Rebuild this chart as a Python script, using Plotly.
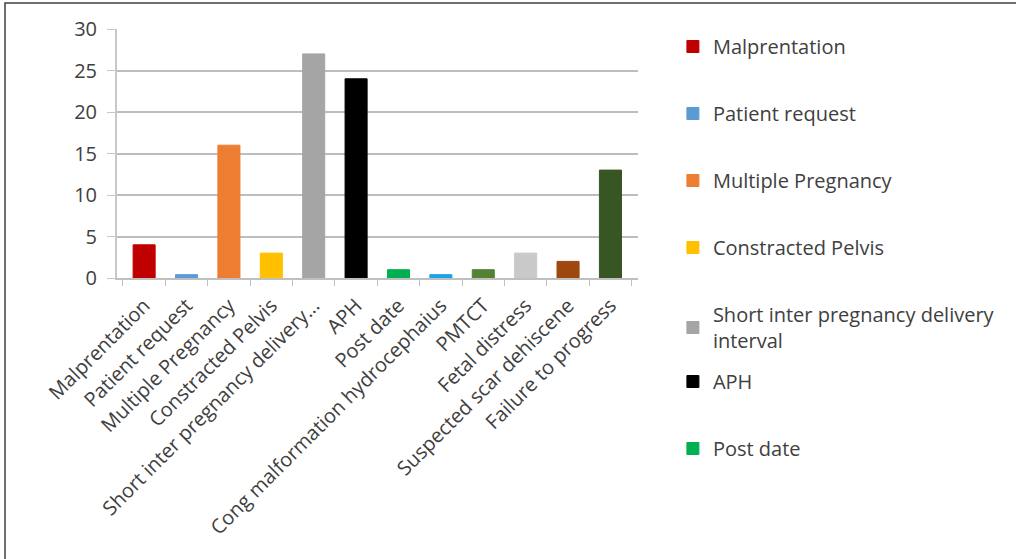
import plotly.graph_objects as go

categories = ["Malprentation", "Patient request", "Multiple Pregnancy", "Constracted Pelvis",
              "Short inter pregnancy delivery interval", "APH", "Post date",
              "Cong malformation hydrocephaius", "PMTCT", "Fetal distress",
              "Suspected scar dehiscene", "Failure to progress"]
tick_labels = ["Malprentation", "Patient request", "Multiple Pregnancy", "Constracted Pelvis",
               "Short inter pregnancy delivery...", "APH", "Post date",
               "Cong malformation hydrocephaius", "PMTCT", "Fetal distress",
               "Suspected scar dehiscene", "Failure to progress"]
legend_labels = ["Malprentation", "Patient request", "Multiple Pregnancy", "Constracted Pelvis",
                 "Short inter pregnancy delivery<br>interval", "APH", "Post date",
                 "Cong malformation hydrocephaius", "PMTCT", "Fetal distress",
                 "Suspected scar dehiscene", "Failure to progress"]
values = [4, 0.4, 16, 3, 27, 24, 1, 0.4, 1, 3, 2, 13]
colors = ["#C00000", "#5B9BD5", "#ED7D31", "#FFC000", "#A5A5A5", "#000000", "#00B050",
          "#1AA3E8", "#548235", "#C9C9C9", "#9E480E", "#375623"]
legend_of = ["legend", "legend", "legend", "legend", "legend", "legend2", "legend2",
             None, None, None, None, None]

fig = go.Figure()
for i, cat in enumerate(categories):
    fig.add_trace(go.Bar(
        x=[tick_labels[i]], y=[values[i]], name=legend_labels[i],
        marker=dict(color=colors[i], line=dict(color=colors[i], width=1)),
        width=0.52, legendgroup=str(i),
        showlegend=legend_of[i] is not None,
        legend=legend_of[i] if legend_of[i] else "legend",
    ))

legend_common = dict(
    xanchor="left", yanchor="top",
    font=dict(size=20, color="#404040"), tracegroupgap=38,
    itemclick=False, traceorder="grouped", bgcolor="rgba(0,0,0,0)",
    maxheight=540,
)
fig.update_layout(
    width=1016, height=559,
    margin=dict(l=117, r=378, t=29, b=281),
    paper_bgcolor="white", plot_bgcolor="white",
    font=dict(family="Open Sans", color="#404040"),
    barmode="overlay",
    xaxis=dict(
        categoryorder="array", categoryarray=tick_labels, range=[-0.64, 11.65],
        tickangle=-45, tickfont=dict(size=20, color="#404040"),
        ticks="outside", tickson="boundaries", ticklen=6, tickcolor="#BFBFBF",
        ticklabelstandoff=6,
        showline=True, linecolor="#BFBFBF", linewidth=2, showgrid=False,
    ),
    yaxis=dict(
        range=[0, 30], dtick=5, tickfont=dict(size=20, color="#404040"),
        showgrid=True, gridcolor="#BDBDBD", gridwidth=2,
        showline=True, linecolor="#C8C8C8", linewidth=2, zeroline=False,
        ticks="outside", ticklen=8, tickcolor="#C8C8C8", ticklabelstandoff=6,
    ),
    legend=dict(x=1.067, y=1.008, **legend_common),
    legend2=dict(x=1.067, y=1 - (362 - 29) / 249, **legend_common),
    showlegend=True,
)
fig.add_shape(type="rect", xref="paper", yref="paper",
              x0=(5 - 117) / 521, x1=(1030 - 117) / 521,
              y0=1 - (570 - 29) / 249, y1=1 + (29 - 3) / 249,
              line=dict(color="#404040", width=1.5), layer="below")

fig.write_html("out.html")
